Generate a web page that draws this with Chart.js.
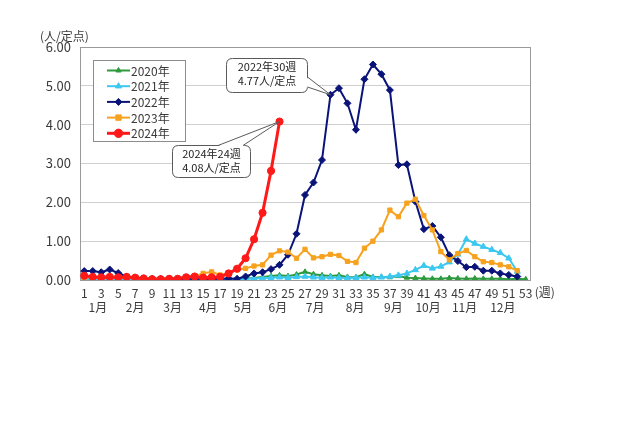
<!DOCTYPE html>
<html>
<head>
<meta charset="utf-8">
<script src="https://cdn.jsdelivr.net/npm/chart.js@4.4.1/dist/chart.umd.min.js"></script>
<style>
  html, body { margin: 0; padding: 0; background: #ffffff; }
  #wrap { width: 640px; height: 426px; }
</style>
</head>
<body>
<div id="wrap"><canvas id="c" width="640" height="426"></canvas></div>
<script>
// ---- data ----
const weeks = [];
for (let i = 1; i <= 53; i++) weeks.push(String(i));

const seriesNames = ['2020年', '2021年', '2022年', '2023年', '2024年'];

const y2020 = [0.10,0.08,0.07,0.06,0.05,0.04,0.03,0.03,0.02,0.02,0.02,0.02,0.02,0.02,0.01,0.01,0.02,0.02,0.03,0.04,
  0.05,0.08,0.10,0.12,0.10,0.14,0.21,0.15,0.12,0.10,0.12,0.08,0.07,0.15,0.08,0.08,0.07,0.10,0.06,0.05,
  0.04,0.03,0.03,0.05,0.04,0.03,0.04,0.03,0.03,0.03,0.02,0.03,0.02];
const y2021 = [0.03,0.02,0.02,0.02,0.02,0.02,0.02,0.02,0.01,0.01,0.01,0.01,0.01,0.01,0.01,0.02,0.02,0.02,0.02,0.03,
  0.04,0.05,0.06,0.07,0.06,0.08,0.09,0.07,0.06,0.07,0.06,0.05,0.06,0.07,0.06,0.07,0.09,0.12,0.17,0.26,
  0.37,0.30,0.35,0.46,0.66,1.05,0.94,0.86,0.78,0.70,0.56,0.22,null];
const y2022 = [0.23,0.23,0.20,0.27,0.18,0.09,0.06,0.04,0.03,0.03,0.03,0.02,0.03,0.03,0.03,0.03,0.03,0.04,0.03,0.09,
  0.17,0.20,0.28,0.39,0.65,1.19,2.19,2.51,3.09,4.77,4.94,4.55,3.87,5.17,5.55,5.30,4.89,2.96,2.98,2.02,
  1.31,1.39,1.10,0.64,0.49,0.33,0.34,0.24,0.24,0.17,0.13,0.09,null];
const y2023 = [0.07,0.06,0.05,0.05,0.05,0.05,0.05,0.04,0.03,0.03,0.04,0.05,0.08,0.10,0.17,0.21,0.13,0.17,0.26,0.30,
  0.36,0.39,0.64,0.75,0.72,0.56,0.79,0.57,0.60,0.66,0.63,0.48,0.45,0.82,1.00,1.29,1.80,1.63,1.98,2.08,
  1.66,1.29,0.73,0.52,0.68,0.76,0.60,0.47,0.45,0.39,0.34,0.24,null];
const y2024 = [0.11,0.08,0.07,0.08,0.07,0.08,0.06,0.04,0.02,0.02,0.03,0.03,0.07,0.09,0.06,0.07,0.08,0.17,0.29,0.56,
  1.05,1.73,2.81,4.08];

const yTicks = [0, 1, 2, 3, 4, 5, 6];
const monthLabels = ['1月','2月','3月','4月','5月','6月','7月','8月','9月','10月','11月','12月'];
const monthCenters = [2.6, 7.0, 11.4, 15.6, 19.7, 23.8, 28.2, 32.9, 37.4, 41.5, 45.8, 50.3]; // in weeks

const callouts = [
  { seriesIndex: 2, week: 30, lines: ['2022年30週', '4.77人/定点'] },
  { seriesIndex: 4, week: 24, lines: ['2024年24週', '4.08人/定点'] }
];

// ---- styles ----
const FONT = '"Noto Sans CJK JP", "Noto Sans", sans-serif';
const TXT = '#3a3a3a';
const styles = [
  { color: '#2e9a3e', point: 'triangle', r: 3, w: 2 },
  { color: '#3cc8f0', point: 'triangle', r: 3.5, w: 2 },
  { color: '#0a1478', point: 'rectRot', r: 3.5, w: 2 },
  { color: '#f7a21e', point: 'rect', r: 3, w: 2 },
  { color: '#ff1a1a', point: 'circle', r: 3.6, w: 3 }
];
const allSeries = [y2020, y2021, y2022, y2023, y2024];

const datasets = allSeries.map((d, i) => ({
  label: seriesNames[i],
  data: d,
  borderColor: styles[i].color,
  backgroundColor: styles[i].color,
  borderWidth: styles[i].w,
  pointStyle: styles[i].point,
  pointRadius: styles[i].r,
  pointBorderWidth: 1,
  pointHoverRadius: styles[i].r,
  tension: 0,
  fill: false,
  spanGaps: false,
  order: 4 - i
}));

function drawMarker(ctx, style, x, y, r, color) {
  ctx.save();
  ctx.fillStyle = color;
  ctx.strokeStyle = color;
  ctx.beginPath();
  if (style === 'circle') {
    ctx.arc(x, y, r, 0, Math.PI * 2);
  } else if (style === 'triangle') {
    ctx.moveTo(x, y - r);
    ctx.lineTo(x + r * 0.866, y + r * 0.5);
    ctx.lineTo(x - r * 0.866, y + r * 0.5);
    ctx.closePath();
  } else if (style === 'rectRot') {
    ctx.moveTo(x, y - r); ctx.lineTo(x + r, y); ctx.lineTo(x, y + r); ctx.lineTo(x - r, y);
    ctx.closePath();
  } else {
    const s = r * 0.9;
    ctx.rect(x - s, y - s, 2 * s, 2 * s);
  }
  ctx.fill();
  ctx.stroke();
  ctx.restore();
}

function roundRect(ctx, x, y, w, h, r) {
  ctx.beginPath();
  ctx.moveTo(x + r, y);
  ctx.lineTo(x + w - r, y);
  ctx.quadraticCurveTo(x + w, y, x + w, y + r);
  ctx.lineTo(x + w, y + h - r);
  ctx.quadraticCurveTo(x + w, y + h, x + w - r, y + h);
  ctx.lineTo(x + r, y + h);
  ctx.quadraticCurveTo(x, y + h, x, y + h - r);
  ctx.lineTo(x, y + r);
  ctx.quadraticCurveTo(x, y, x + r, y);
  ctx.closePath();
}

const decor = {
  id: 'decor',
  beforeDatasetsDraw(chart) {
    const ctx = chart.ctx, a = chart.chartArea;
    ctx.save();
    ctx.strokeStyle = '#9a9a9a';
    ctx.lineWidth = 1;
    ctx.strokeRect(Math.round(a.left) + 0.5, Math.round(a.top) + 0.5, Math.round(a.right - a.left), Math.round(a.bottom - a.top));
    ctx.restore();
  },
  afterDraw(chart) {
    const ctx = chart.ctx, a = chart.chartArea;
    const xs = chart.scales.x, ys = chart.scales.y;
    ctx.save();
    // y-axis unit
    ctx.fillStyle = TXT;
    ctx.font = '12px ' + FONT;
    ctx.textAlign = 'left';
    ctx.textBaseline = 'middle';
    ctx.fillText('(人/定点)', 40, 36);
    // week unit
    ctx.fillText('(週)', xs.getPixelForValue(52) + 9, a.bottom + 12);
    // months
    ctx.textAlign = 'center';
    monthLabels.forEach((m, i) => {
      ctx.fillText(m, xs.getPixelForValue(monthCenters[i] - 1), a.bottom + 27);
    });

    // legend
    const lx = 93, ly = 60, lw = 92, lh = 81;
    ctx.fillStyle = '#ffffff';
    ctx.fillRect(lx, ly, lw, lh);
    ctx.strokeStyle = '#8c8c8c';
    ctx.lineWidth = 1;
    ctx.strokeRect(lx + 0.5, ly + 0.5, lw, lh);
    seriesNames.forEach((n, i) => {
      const y = ly + 10.5 + i * 15.7;
      ctx.strokeStyle = styles[i].color;
      ctx.lineWidth = styles[i].w;
      ctx.beginPath();
      ctx.moveTo(107, y); ctx.lineTo(130, y);
      ctx.stroke();
      ctx.lineWidth = 1;
      drawMarker(ctx, styles[i].point, 118.5, y, i === 4 ? 4.2 : styles[i].r, styles[i].color);
      ctx.fillStyle = TXT;
      ctx.font = '12px ' + FONT;
      ctx.textAlign = 'left';
      ctx.textBaseline = 'middle';
      ctx.fillText(n, 131, y + 0.5);
    });

    // callouts
    const boxes = [
      { x: 226, y: 58, w: 81, h: 34, base: [[306, 77], [306, 87]], side: 'right' },
      { x: 172, y: 145, w: 78, h: 32, base: [[218, 146], [243, 146]], side: 'top' }
    ];
    callouts.forEach((c, k) => {
      const b = boxes[k];
      const px = xs.getPixelForValue(c.week - 1);
      const py = ys.getPixelForValue(allSeries[c.seriesIndex][c.week - 1]);
      ctx.fillStyle = '#ffffff';
      ctx.strokeStyle = '#5a5a5a';
      ctx.lineWidth = 1;
      roundRect(ctx, b.x + 0.5, b.y + 0.5, b.w, b.h, 6);
      ctx.fill();
      ctx.stroke();
      // tail
      ctx.beginPath();
      ctx.moveTo(b.base[0][0], b.base[0][1]);
      ctx.lineTo(px, py);
      ctx.lineTo(b.base[1][0], b.base[1][1]);
      ctx.closePath();
      ctx.fill();
      ctx.beginPath();
      if (b.side === 'right') {
        ctx.moveTo(b.x + b.w + 0.5, b.base[0][1]);
        ctx.lineTo(px, py);
        ctx.lineTo(b.x + b.w + 0.5, b.base[1][1]);
      } else {
        ctx.moveTo(b.base[0][0], b.y + 0.5);
        ctx.lineTo(px, py);
        ctx.lineTo(b.base[1][0], b.y + 0.5);
      }
      ctx.stroke();
      ctx.fillStyle = '#222222';
      ctx.font = '11px ' + FONT;
      ctx.textAlign = 'center';
      ctx.textBaseline = 'middle';
      const cx = b.x + b.w / 2 + 0.5;
      ctx.fillText(c.lines[0], cx, b.y + 9);
      ctx.fillText(c.lines[1], cx, b.y + 23);
    });
    ctx.restore();
  }
};

new Chart(document.getElementById('c'), {
  type: 'line',
  data: { labels: weeks, datasets },
  options: {
    responsive: false,
    animation: false,
    events: [],
    layout: { padding: { top: 47, right: 110, left: 0, bottom: 0 } },
    plugins: { legend: { display: false }, tooltip: { enabled: false } },
    scales: {
      x: {
        type: 'category',
        offset: true,
        grid: { display: false, drawTicks: false },
        border: { display: false },
        afterFit(s) { s.height = 146; },
        ticks: {
          autoSkip: false,
          maxRotation: 0,
          minRotation: 0,
          padding: 6,
          color: TXT,
          font: { family: FONT, size: 12 },
          callback(v, i) { return (i % 2 === 0) ? weeks[i] : ''; }
        }
      },
      y: {
        min: yTicks[0],
        max: yTicks[yTicks.length - 1],
        afterFit(s) { s.width = 80; },
        afterBuildTicks(s) { s.ticks = yTicks.map(v => ({ value: v })); },
        grid: { color: '#cfcfcf', lineWidth: 1, drawTicks: false },
        border: { display: false },
        ticks: {
          padding: 9,
          color: TXT,
          font: { family: FONT, size: 13 },
          callback(v) { return Number(v).toFixed(2); }
        }
      }
    }
  },
  plugins: [decor]
});
</script>
</body>
</html>
